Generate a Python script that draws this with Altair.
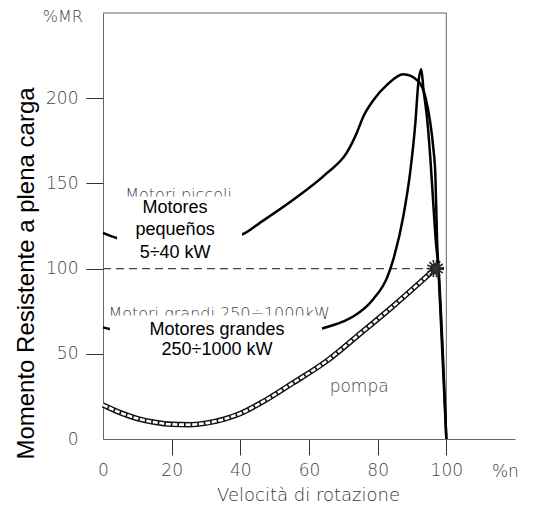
import altair as alt
import pandas as pd

# ---- data ----
pic_x = [0, 4, 15, 30, 40.5, 45.8, 55.5, 65.2, 71, 73.9, 75.9, 78.8, 82.7, 87.5, 91.8, 93.9, 95.3, 96.2, 96.8, 97.3, 97.7, 100]
pic_y = [121, 118, 115, 116, 120, 127, 140.5, 156, 168, 179.6, 189.6, 199, 207.8, 214, 210, 200.6, 186, 171, 155, 117, 100, 0]

gra_x = [0, 2, 20, 40, 55, 64, 70, 73, 78.7, 82.8, 84.5, 87.5, 89.5, 91, 91.8, 92.7, 93.3, 94.5, 95.3, 96.3, 96.9, 97.7, 100]
gra_y = [65.5, 64.5, 61, 60, 62, 65, 69, 72, 82, 95, 105, 131, 157, 186, 208, 217, 206, 186, 166, 135, 117, 100, 0]

pom_x = [0, 5, 10, 15, 20, 25, 30, 35, 40, 45.8, 55.4, 65.3, 75, 84.5, 92.4, 96.8]
pom_y = [20, 15.5, 12, 9.8, 8.6, 8.4, 9.3, 11.5, 15, 21, 33, 46, 62, 78, 92, 100]

x_ticks = [0, 20, 40, 60, 80, 100]
y_ticks = [0, 50, 100, 150, 200]

nominal_x = [96.8]
nominal_y = [100]

# annotation texts
ita_text = ["Motori piccoli", "Motori grandi 250÷1000kW"]
ita_x = [22, 33.8]
ita_y = [140.0, 70.5]

box_x = [4.1, 2.0]
box_x2 = [40.5, 63.8]
box_y = [103.9, 46]
box_y2 = [142.3, 72.5]

esp_text = ["Motores", "pequeños", "5÷40 kW", "Motores grandes", "250÷1000 kW"]
esp_x = [21, 21, 21, 33.2, 33.2]
esp_y = [135.6, 122.7, 109.2, 64, 52.2]

misc_text = ["pompa", "%n"]
misc_x = [74.6, 117.2]
misc_y = [30.5, -19.4]

unit_text = ["%MR"]
unit_x = [-11.7]
unit_y = [245.0]

frame_x = [0, 100]
frame_x2 = [100, 100]
frame_y = [250, 0]
frame_y2 = [250, 250]

# ---- frames ----
df_pic = pd.DataFrame({"x": pic_x, "y": pic_y})
df_gra = pd.DataFrame({"x": gra_x, "y": gra_y})
df_pom = pd.DataFrame({"x": pom_x, "y": pom_y})
df_nom = pd.DataFrame({"x": nominal_x, "y": nominal_y})
df_ref = pd.DataFrame({"x": [0], "x2": nominal_x, "y": nominal_y})
df_ita = pd.DataFrame({"x": ita_x, "y": ita_y, "t": ita_text})
df_box = pd.DataFrame({"x": box_x, "x2": box_x2, "y": box_y, "y2": box_y2})
df_esp = pd.DataFrame({"x": esp_x, "y": esp_y, "t": esp_text})
df_misc = pd.DataFrame({"x": misc_x, "y": misc_y, "t": misc_text})
df_unit = pd.DataFrame({"x": unit_x, "y": unit_y, "t": unit_text})
df_frame = pd.DataFrame({"x": frame_x, "x2": frame_x2, "y": frame_y, "y2": frame_y2})

xs = alt.Scale(domain=[0, 120], nice=False, zero=False)
ys = alt.Scale(domain=[0, 250], nice=False, zero=False)

cad_font = "DejaVu Sans"

x_axis = alt.Axis(
    values=x_ticks, title="Velocità di rotazione", grid=False,
    domainColor="#666", domainWidth=1,
    tickColor="#333", tickSize=16, tickWidth=1,
    tickOpacity={"expr": "datum.value == 0 ? 0 : 1"},
    labelFont=cad_font, labelFontSize=17, labelColor="#444", labelFontWeight=300,
    labelPadding=7, labelFlush=False,
    titleFont=cad_font, titleFontSize=18, titleFontWeight=300, titleColor="#333",
    titleX=205, titleY=56, titleBaseline="middle", titleAlign="center",
)
y_axis = alt.Axis(
    values=y_ticks, title="Momento Resistente a plena carga", grid=False,
    domainColor="#666", domainWidth=1,
    tickColor="#333", tickSize=17, tickWidth=1,
    tickOpacity={"expr": "datum.value == 0 ? 0 : 1"},
    labelFont=cad_font, labelFontSize=17, labelColor="#444", labelFontWeight=300,
    labelPadding=8, labelFlush=False,
    titleFont="Liberation Sans", titleFontSize=24, titleFontWeight="normal", titleColor="#000",
    titleAngle=-90, titleX=-70, titleY=260, titleAlign="center", titleBaseline="alphabetic",
)


def X(f="x"):
    return alt.X(f + ":Q", scale=xs, axis=x_axis)


def Y(f="y"):
    return alt.Y(f + ":Q", scale=ys, axis=y_axis)


frame = alt.Chart(df_frame).mark_rule(color="#666", strokeWidth=1).encode(
    x=X(), x2="x2:Q", y=Y(), y2="y2:Q")

ref100 = alt.Chart(df_ref).mark_rule(color="#444", strokeWidth=1.2, strokeDash=[8, 5]).encode(
    x=X(), x2="x2:Q", y=Y())

line_pic = alt.Chart(df_pic).mark_line(color="#000", strokeWidth=2.5, interpolate="monotone").encode(
    x=X(), y=Y())
line_gra = alt.Chart(df_gra).mark_line(color="#000", strokeWidth=2.5, interpolate="monotone").encode(
    x=X(), y=Y())

pom_outer = alt.Chart(df_pom).mark_line(color="#111", strokeWidth=5.5, interpolate="monotone").encode(
    x=X(), y=Y())
pom_inner = alt.Chart(df_pom).mark_line(color="#fff", strokeWidth=2.6, strokeDash=[5, 1.6],
                                        interpolate="monotone").encode(x=X(), y=Y())

marker = alt.Chart(df_nom).mark_point(shape="circle", size=130, filled=True, fill="#333",
                                      stroke="#222", strokeWidth=6, strokeDash=[1.2, 1.2],
                                      opacity=1).encode(x=X(), y=Y())

ita = alt.Chart(df_ita).mark_text(font=cad_font, fontSize=16, fontWeight=300, color="#444",
                                  align="center", baseline="alphabetic").encode(
    x=X(), y=Y(), text="t:N")

boxes = alt.Chart(df_box).mark_rect(color="#fff").encode(
    x=X(), x2="x2:Q", y=Y(), y2="y2:Q")

esp = alt.Chart(df_esp).mark_text(font="Liberation Sans", fontSize=18, color="#000",
                                  align="center", baseline="middle").encode(
    x=X(), y=Y(), text="t:N")

misc = alt.Chart(df_misc).mark_text(font=cad_font, fontSize=17, fontWeight=300, color="#444",
                                    align="center", baseline="middle").encode(
    x=X(), y=Y(), text="t:N")

unit = alt.Chart(df_unit).mark_text(font=cad_font, fontSize=16, fontWeight=300, color="#444",
                                    align="center", baseline="alphabetic").encode(
    x=X(), y=Y(), text="t:N")

chart = alt.layer(
    frame, ref100, line_pic, line_gra, pom_outer, pom_inner, marker, ita, boxes, esp, misc, unit
).properties(
    width=412, height=426,
    autosize=alt.AutoSizeParams(type="none"),
    padding={"left": 95, "top": 5, "right": 10, "bottom": 70},
    background="white",
).configure_view(stroke=None)

chart.save("out.html", embed_options={"renderer": "svg", "actions": False})
